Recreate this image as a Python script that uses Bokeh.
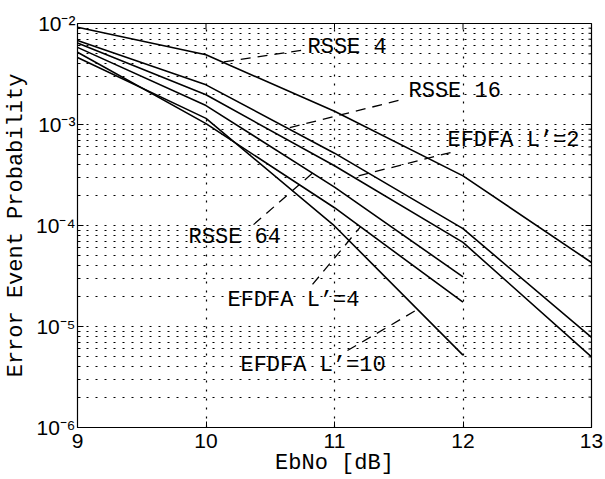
import math
from bokeh.plotting import figure
from bokeh.models import FixedTicker, Range1d, ColumnDataSource
from bokeh.core.properties import value
from bokeh.embed import file_html
from bokeh.resources import INLINE

# ---- data ----
ebno = [9, 10, 11, 12, 13]
rsse4 = [9.2e-3, 4.9e-3, 1.35e-3, 3.1e-4, 4.3e-5]
rsse16 = [6.8e-3, 2.47e-3, 5.2e-4, 9.3e-5, 7.8e-6]
efdfa2 = [6.4e-3, 1.97e-3, 3.9e-4, 6.8e-5, 5.0e-6]
ebno_short = [9, 10, 11, 12]
rsse64 = [5.8e-3, 1.54e-3, 2.4e-4, 3.1e-5]
efdfa4 = [5.2e-3, 1.02e-3, 1.5e-4, 1.74e-5]
efdfa10 = [4.6e-3, 1.15e-3, 9.9e-5, 5.2e-6]

x_ticks = [9, 10, 11, 12, 13]
y_ticks = [1e-6, 1e-5, 1e-4, 1e-3, 1e-2]
y_tick_labels = ["10\u207b\u2076", "10\u207b\u2075", "10\u207b\u2074", "10\u207b\u00b3", "10\u207b\u00b2"]

# annotations: label text, label anchor, leader start, leader end x (on curve)
ann_text = ["RSSE 4", "RSSE 16", "EFDFA L\u2019=2", "RSSE 64", "EFDFA L\u2019=4", "EFDFA L\u2019=10"]
ann_x = [10.79, 11.576, 11.879, 9.864, 10.167, 10.268]
ann_y = [5.78e-3, 2.12e-3, 6.95e-4, 7.6e-5, 1.81e-5, 4.11e-6]
lead_x0 = [10.74, 11.498, 11.903, 10.370, 10.829, 11.101]
lead_y0 = [5.41e-3, 1.73e-3, 5.28e-4, 1.02e-4, 2.61e-5, 5.78e-6]
lead_x1 = [10.128, 10.634, 11.148, 10.829, 11.202, 11.646]

series = [(ebno, rsse4), (ebno, rsse16), (ebno, efdfa2),
          (ebno_short, rsse64), (ebno_short, efdfa4), (ebno_short, efdfa10)]


def log_interp(xs, ys, x):
    for i in range(len(xs) - 1):
        if xs[i] <= x <= xs[i + 1]:
            t = (x - xs[i]) / (xs[i + 1] - xs[i])
            return 10 ** (math.log10(ys[i]) + t * (math.log10(ys[i + 1]) - math.log10(ys[i])))
    return ys[-1]


lead_y1 = [log_interp(sx, sy, x) for (sx, sy), x in zip(series, lead_x1)]

MONO = "Liberation Mono"
SANS = "Liberation Sans"

x_lo, x_hi = x_ticks[0], x_ticks[-1]
y_lo, y_hi = y_ticks[0], y_ticks[-1]

p = figure(width=605, height=479, x_range=Range1d(x_lo, x_hi), y_range=Range1d(y_lo, y_hi),
           y_axis_type="log", output_backend="svg", toolbar_location=None,
           min_border_left=77, min_border_right=14, min_border_top=23, min_border_bottom=52,
           x_axis_label="EbNo [dB]", y_axis_label="Error Event Probability")
p.background_fill_color = "white"
p.border_fill_color = "white"
p.outline_line_color = "black"
p.outline_line_width = 1.2

minor_y = [k * 10.0 ** e for e in range(-6, -2) for k in range(2, 10)]
yt = FixedTicker(ticks=y_ticks, minor_ticks=minor_y)
xt = FixedTicker(ticks=x_ticks, minor_ticks=[])

p.xaxis.ticker = xt
p.yaxis.ticker = yt
p.yaxis.major_label_overrides = {t: s for t, s in zip(y_ticks, y_tick_labels)}

for ax in (p.xaxis[0], p.yaxis[0]):
    ax.axis_line_color = "black"
    ax.major_tick_in = 6
    ax.major_tick_out = 0
    ax.minor_tick_in = 3
    ax.minor_tick_out = 0
    ax.major_tick_line_color = "black"
    ax.minor_tick_line_color = "black"
    ax.major_label_text_font = SANS
    ax.major_label_text_font_size = "21px"
    ax.major_label_text_color = "black"
    ax.axis_label_text_font = MONO
    ax.axis_label_text_font_size = "22px"
    ax.axis_label_text_font_style = "normal"
    ax.axis_label_text_color = "black"

p.xaxis.major_label_standoff = 6
p.xaxis.axis_label_standoff = 0
p.yaxis.major_label_standoff = 2
p.yaxis.axis_label_standoff = 4

# inward ticks on the top and right edges (half of each dash is clipped by the frame)
inner_x = x_ticks[1:-1]
p.scatter(x=inner_x, y=[y_hi] * len(inner_x), marker="dash", angle=math.pi / 2, size=12,
          line_color="black", line_width=1)
p.scatter(x=[x_hi] * len(y_ticks), y=y_ticks, marker="dash", size=12, line_color="black", line_width=1)
p.scatter(x=[x_hi] * len(minor_y), y=minor_y, marker="dash", size=6, line_color="black", line_width=1)

# grids (dotted, MATLAB style)
p.xgrid.ticker = xt
p.ygrid.ticker = yt
for g in (p.xgrid[0], p.ygrid[0]):
    g.grid_line_color = "black"
    g.grid_line_dash = "2 7"
    g.grid_line_width = 1.2
p.ygrid.minor_grid_line_color = "black"
p.ygrid.minor_grid_line_dash = "2 7"
p.ygrid.minor_grid_line_width = 1.2

for sx, sy in series:
    p.line(sx, sy, line_color="black", line_width=1.6)

p.segment(x0=lead_x0, y0=lead_y0, x1=lead_x1, y1=lead_y1, line_color="black",
          line_width=1.3, line_dash="10 7")

src = ColumnDataSource(dict(x=ann_x, y=ann_y, text=ann_text))
p.text(x="x", y="y", text="text", source=src, text_font=value(MONO), text_font_size="22px",
       text_align="left", text_baseline="middle", text_color="black")

open("out.html", "w").write(file_html(p, INLINE))
